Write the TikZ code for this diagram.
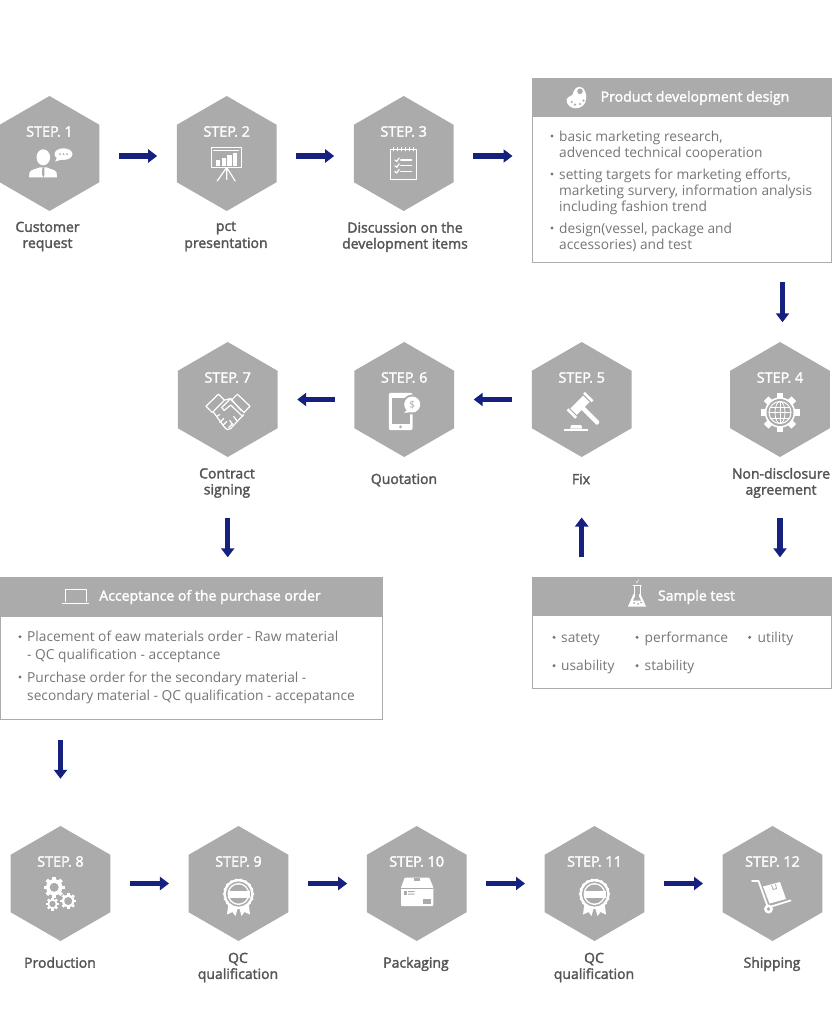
\documentclass[tikz,border=0pt]{standalone}
\usepackage{fontspec}
\setmainfont{Open Sans}
\newcommand\labelfont{\special{pdf:code 2 Tr 0.3 w}}
\usetikzlibrary{arrows.meta,shapes.geometric}
\definecolor{hexgray}{HTML}{ABABAB}
\definecolor{flownavy}{HTML}{15207F}
\definecolor{labelgray}{HTML}{555555}
\definecolor{itemgray}{HTML}{767676}
\tikzset{
	x=1pt, y=-1pt,
	hexstep/.style={regular polygon, regular polygon sides=6, shape border rotate=30, minimum size=115pt, inner sep=0pt, fill=hexgray},
	steplabel/.style={text=white, inner sep=0pt, font=\fontsize{14.4}{16}\selectfont\labelfont},
	steptitle/.style={text=labelgray, inner sep=0pt, align=center, font=\fontsize{14}{16}\selectfont\labelfont},
	boxhead/.style={fill=hexgray, inner sep=0pt},
	boxbody/.style={fill=white, draw=hexgray, line width=1pt, inner sep=0pt},
	boxtitle/.style={text=white, inner sep=0pt, font=\fontsize{14.1}{16}\selectfont\labelfont},
	itemtext/.style={text=itemgray, inner sep=0pt, align=left, anchor=north west, font=\fontsize{13.75}{16}\selectfont, execute at begin node=\strut},
	orderitem/.style={itemtext, font=\fontsize{13.75}{18}\selectfont},
	flowarrow/.style={-{Triangle[length=9pt,width=13pt]}, line width=5.5pt, flownavy, shorten >=19.5pt, shorten <=19.5pt},
	iconline/.style={draw=white, line width=1.2pt, line join=round, line cap=round},
	pics/cogwheel/.style 2 args={code={
		\fill[white] (0,0) circle ({#1*0.78});
		\foreach \a in {0,45,...,315}
			\fill[white,rotate=\a] ({-#1*0.17},0) rectangle ({#1*0.17},#1);
		\fill[hexgray] (0,0) circle (#2);
	}},
	pics/personicon/.style={code={
		\fill[white] (-6.2,3.8) ellipse (6.8 and 8);
		\fill[white] (-20.5,24) -- (-20,19) .. controls (-19,16) and (-13,15.5) .. (-10,14) -- (-2.5,14) .. controls (0,15.5) and (6,16) .. (7,19) -- (7.5,24) -- cycle;
		\fill[hexgray] (-7.2,14) -- (-5.2,14) -- (-5,21) -- (-6.2,24) -- (-7.4,21) -- cycle;
		\fill[white] (14,0.6) ellipse (9 and 5.8);
		\fill[white] (8,3) -- (5.5,8) -- (13,6) -- cycle;
		\foreach \x in {10.5,14,17.5}
			\fill[hexgray] (\x,0.6) circle (1);
	}},
	pics/boardicon/.style={code={
		\draw[iconline,line width=1pt] (-15.5,-6) rectangle (14.5,14);
		\draw[iconline,line width=1pt] (-13,-3) -- (12,-3);
		\foreach \xa/\xb/\yt in {-10.7/-6.7/6.5,-5/-0.7/4.8,0.7/5/1.5,6/10/-0.8}
			\fill[white] (\xa,\yt) rectangle (\xb,12.5);
		\draw[iconline] (0,14) -- (-9.5,27.5) (0,14) -- (0,26) (0,14) -- (8.5,27.5);
	}},
	pics/noteicon/.style={code={
		\draw[iconline,line width=1pt] (-13,-4) rectangle (12.5,25.8);
		\foreach \x in {-10,-6,...,10}
			\draw[iconline,line width=.8pt] (\x,-6) -- (\x,-2.5);
		\foreach \y in {6.5,12.3,18}{
			\draw[iconline] (-8.8,\y) -- (-7,\y+1.5) -- (-4.5,\y-2);
			\draw[iconline] (-3,\y) -- (8,\y);
		}
	}},
	pics/paletteicon/.style={code={
		\fill[white] (-10,2) .. controls (-9,-1) and (-5,-1) .. (-4,-3) .. controls (-3,-7) and (-1,-10.5) .. (3,-10.5) .. controls (8,-10.5) and (10,-3) .. (9.5,1) .. controls (9,8) and (4,11) .. (-1,11) .. controls (-6,11) and (-11,7) .. (-10,2) -- cycle;
		\fill[hexgray] (3.3,-6) circle (2.8);
		\foreach \x/\y in {-5/4.7,-1.7/7.3,3.3/6.7,6.7/3.3}
			\fill[hexgray] (\x,\y) circle (1.2);
	}},
	pics/globegear/.style={code={
		\pic at (0,0) {cogwheel={19.5}{13.5}};
		\draw[iconline,line width=1pt] (0,0) circle (11);
		\draw[iconline,line width=.8pt] (0,0) ellipse (5 and 11);
		\draw[iconline,line width=.8pt] (0,-11) -- (0,11) (-11,0) -- (11,0) (-9.5,-5.5) -- (9.5,-5.5) (-9.5,5.5) -- (9.5,5.5);
	}},
	pics/gavelicon/.style={code={
		\begin{scope}[shift={(-1.7,5.8)},rotate=45]
			\fill[white] (-9,-4.5) rectangle (9,4.5);
			\fill[white] (-13,-6) rectangle (-10.3,6);
			\fill[white] (10.3,-6) rectangle (13,6);
			\fill[white,rounded corners=1pt] (-2.2,3) rectangle (2.2,26);
		\end{scope}
		\fill[white] (-17.5,31) rectangle (6.5,29);
		\fill[white] (-11.5,29) -- (-10.5,25.5) -- (-0.5,25.5) -- (0.5,29) -- cycle;
	}},
	pics/phoneicon/.style={code={
		\fill[white,rounded corners=2pt] (-15.3,-6.7) rectangle (8.3,30.7);
		\fill[hexgray] (-12.7,-1.7) rectangle (5.7,24);
		\fill[hexgray] (-3.7,27.3) circle (1.5);
		\fill[hexgray] (8,5) circle (10);
		\fill[white] (8,5) circle (8);
		\fill[white] (3,10) -- (0,13.5) -- (7,12.5) -- cycle;
		\node[text=hexgray, inner sep=0pt, font=\fontsize{10}{10}\selectfont] (dollar) at (8,5) {\$};
	}},
	pics/handshakeicon/.style={code={
		\draw[iconline] (-21.7,6.7) -- (-9.3,-5.3) -- (-3.3,0.7) -- (-15.3,13) -- cycle;
		\draw[iconline] (9.7,-5.3) -- (22.3,6.7) -- (16.3,13) -- (3.7,0.7) -- cycle;
		\draw[iconline] (-3.3,0.7) -- (3,-1) -- (13.5,11);
		\draw[iconline] (3,-1) -- (-6,8) -- (-3.5,11) -- (3,5.5) -- (15,17);
		\draw[iconline] (-14,13) -- (-11,17) -- (-3,28) .. controls (-1,30.5) and (1,30.5) .. (3,29) -- (16,15);
		\draw[iconline] (-11,17) -- (-8,15) (-8,23) -- (-4,19) (-5,26) -- (-1,22) (1,28) -- (5,24) (5,25) -- (2,21) (9,21) -- (6,17);
	}},
	pics/laptopicon/.style={code={
		\draw[iconline,line width=1pt] (-10.5,5) -- (-10.5,-7.2) -- (10.5,-7.2) -- (10.5,5);
		\draw[iconline,line width=1.4pt] (-13,7) -- (13,7);
	}},
	pics/flaskicon/.style={code={
		\draw[iconline,line width=1pt] (-3,-9.5) -- (-3,0) (3,-9.5) -- (3,0) (-4,-9.5) -- (4,-9.5);
		\fill[white] (-3.5,-1) -- (3.5,-1) -- (9,11.5) -- (-9,11.5) -- cycle;
		\fill[hexgray] (-2.2,-1) rectangle (2.2,2);
		\fill[hexgray] (-2.2,2) -- (2.2,2) -- (4,5.5) -- (-4,5.5) -- cycle;
		\foreach \x/\y in {-3/8,1/9,4/7.5}
			\fill[hexgray] (\x,\y) circle (1);
		\fill[white] (0,-13) circle (.8) (1.5,-15) circle (.6);
	}},
	pics/gearsicon/.style={code={
		\pic at (-6.3,3.8) {cogwheel={10.5}{4.5}};
		\pic at (7.7,17.5) {cogwheel={8}{4}};
		\pic at (-8,20.5) {cogwheel={6.5}{3.2}};
	}},
	pics/rosetteicon/.style={code={
		\fill[white] (-10,19) -- (-11.5,31) -- (-6,28.5) -- (-3,32.5) -- (0,22) -- (3,32.5) -- (6,28.5) -- (11.5,31) -- (10,19) -- cycle;
		\fill[white] (0,10.5) circle (15);
		\foreach \a in {0,20,...,340}
			\fill[white] ([shift={(\a:14.5)}]0,10.5) circle (1.4);
		\fill[hexgray] (0,10.5) circle (12.6);
		\fill[white] (0,10.5) circle (11);
		\fill[hexgray] (0,10.5) circle (9.5);
		\fill[white] (-11,7) rectangle (11,14);
	}},
	pics/cartonicon/.style={code={
		\fill[white,rounded corners=1pt] (-12,-6) -- (12.5,-6) -- (16.7,4) -- (16.7,22.5) -- (-15.7,22.5) -- (-15.7,4) -- cycle;
		\draw[hexgray,line width=.8pt] (-15.7,5) -- (16.7,5);
		\fill[hexgray] (-3,-6) rectangle (3,-2.5);
		\fill[hexgray] (-13,7.5) rectangle (-9.5,11);
		\fill[hexgray] (-8.5,7.5) rectangle (-2,8.5) (-8.5,10) rectangle (-2,11);
		\fill[hexgray] (6,15.5) rectangle (14.5,20);
	}},
	pics/trolleyicon/.style={code={
		\draw[iconline,line width=1.8pt] (-20.5,-2.5) -- (-14,-2.5) -- (-4.5,24) -- (18,17);
		\fill[white] (-9.5,3) -- (7.5,-1.5) -- (13.5,15.5) -- (-3,20) -- cycle;
		\draw[hexgray,line width=.8pt] (-1,1.5) -- (0.5,6) -- (4,5) -- (3,0.5);
		\fill[white] (-4,25.5) circle (4.5);
		\fill[hexgray] (-4,25.5) circle (1.8);
	}},
}
\begin{document}
\begin{tikzpicture}
	\path[use as bounding box] (0,0) rectangle (832,1027);
	\foreach \x/\y/\num in {49.5/153.5/1,226.7/153.5/2,403.7/153.5/3,780/399.5/4,581.7/399.5/5,404.2/399.5/6,227.7/399.5/7,60.5/883.5/8,238.5/883.5/9,416.7/883.5/10,594.5/883.5/11,772.5/883.5/12}{
		\node[hexstep] (step\num) at (\x,\y) {};
		\node[steplabel] (name\num) at (\x,\y-22) {STEP. \num};
	}

	\node[steptitle] (title1) at (47.5,236.5) {Customer\\request};
	\node[steptitle] (title2) at (226,236.5) {pct\\[1pt]presentation};
	\node[steptitle] (title3) at (405,237) {Discussion on the\\development items};
	\node[steptitle] (title4) at (781,483) {Non-disclosure\\agreement};
	\node[steptitle] (title5) at (581,479) {Fix};
	\node[steptitle] (title6) at (404,480) {Quotation};
	\node[steptitle] (title7) at (227,483) {Contract\\signing};
	\node[steptitle] (title8) at (60,962.5) {Production};
	\node[steptitle] (title9) at (238,967.5) {QC\\qualification};
	\node[steptitle] (title10) at (416,964) {Packaging};
	\node[steptitle] (title11) at (594,967.5) {QC\\qualification};
	\node[steptitle] (title12) at (772,964) {Shipping};

	\pic at (step1.center) {personicon};
	\pic at (step2.center) {boardicon};
	\pic at (step3.center) {noteicon};
	\pic at ([yshift=-13pt]step4.center) {globegear};
	\pic at (step5.center) {gavelicon};
	\pic at (step6.center) {phoneicon};
	\pic at (step7.center) {handshakeicon};
	\pic at (step8.center) {gearsicon};
	\pic at (step9.center) {rosetteicon};
	\pic at (step10.center) {cartonicon};
	\pic at (step11.center) {rosetteicon};
	\pic at (step12.center) {trolleyicon};

	\node[boxbody, minimum width=299pt, minimum height=145pt] (devbody) at (682,189.5) {};
	\node[boxhead, minimum width=300pt, minimum height=39pt] (devhead) at (682,97.5) {};
	\node[boxtitle] (devtitle) at (695,98) {Product development design};
	\pic at (576.7,97.3) {paletteicon};
	\node[itemtext] (dev1) at (559,130.8) {basic marketing research,\\advenced technical cooperation};
	\node[itemtext] (dev2) at (559,168.8) {setting targets for marketing efforts,\\marketing survery, information analysis\\including fashion trend};
	\node[itemtext] (dev3) at (559,222.8) {design(vessel, package and\\accessories) and test};

	\node[boxbody, minimum width=299pt, minimum height=73pt] (testbody) at (682,652) {};
	\node[boxhead, minimum width=300pt, minimum height=39pt] (testhead) at (682,596.5) {};
	\node[boxtitle] (testtitle) at (696.5,597) {Sample test};
	\pic at (637,595) {flaskicon};
	\node[itemtext] (test1) at (561,630.8) {satety};
	\node[itemtext] (test2) at (644.5,630.8) {performance};
	\node[itemtext] (test3) at (757.5,630.8) {utility};
	\node[itemtext] (test4) at (561,659) {usability};
	\node[itemtext] (test5) at (644.5,659) {stability};

	\node[boxbody, minimum width=382pt, minimum height=103pt] (orderbody) at (191,668) {};
	\node[boxhead, minimum width=383pt, minimum height=39pt] (orderhead) at (191.5,596.5) {};
	\node[boxtitle] (ordertitle) at (210,597) {Acceptance of the purchase order};
	\pic at (75.5,596.5) {laptopicon};
	\node[orderitem] (order1) at (27,631) {Placement of eaw materials order - Raw material\\- QC qualification - acceptance};
	\node[orderitem] (order2) at (27,671.8) {Purchase order for the secondary material -\\secondary material - QC qualification - accepatance};

	\foreach \x/\y in {552/136,552/174,552/228,554/637.3,637/637.3,749.7/637.3,554/665.7,637/665.7,20/636.7,20/677}
		\fill[itemgray] (\x,\y) circle (1.7);

	\coordinate (labelfoot) at (0,498);
	\draw[flowarrow] ([yshift=-2.5pt]step1.east) -- ([yshift=-2.5pt]step2.west);
	\draw[flowarrow] ([yshift=-2.5pt]step2.east) -- ([yshift=-2.5pt]step3.west);
	\draw[flowarrow] ([yshift=-2.5pt]step3.east) -- ([yshift=-2.5pt]devbody.west |- step3.east);
	\draw[flowarrow] ([xshift=2.5pt]devbody.south -| step4.north) -- ([xshift=2.5pt]step4.north);
	\draw[flowarrow] (step5.west) -- (step6.east);
	\draw[flowarrow] (step6.west) -- (step7.east);
	\draw[flowarrow] (step4 |- labelfoot) -- (testhead.north -| step4);
	\draw[flowarrow] (testhead.north -| step5) -- (step5 |- labelfoot);
	\draw[flowarrow] (step7 |- labelfoot) -- (orderhead.north -| step7);
	\draw[flowarrow, shorten >=47pt] (orderbody.south -| step8) -- (step8.north);
	\draw[flowarrow] (step8.east) -- (step9.west);
	\draw[flowarrow] (step9.east) -- (step10.west);
	\draw[flowarrow] (step10.east) -- (step11.west);
	\draw[flowarrow] (step11.east) -- (step12.west);
\end{tikzpicture}
\end{document}
